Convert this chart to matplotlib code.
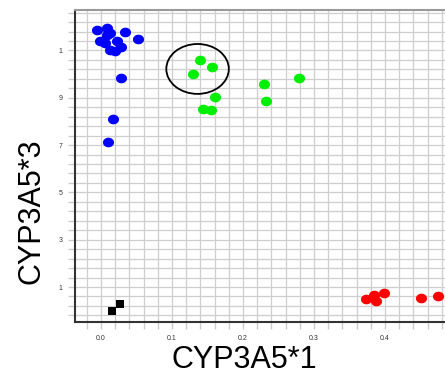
import numpy as np
import matplotlib
matplotlib.use("Agg")
import matplotlib.pyplot as plt
from matplotlib.patches import Ellipse
from matplotlib.path import Path

plt.rcParams['font.family'] = ['Liberation Sans', 'DejaVu Sans']

# ---- data ----
blue_x = [-0.006, 0.009, 0.013, 0.009, 0.034, -0.001, 0.006, 0.023, 0.052, 0.013, 0.020, 0.028, 0.028, 0.017, 0.010]
blue_y = [1.187, 1.194, 1.173, 1.166, 1.177, 1.141, 1.133, 1.141, 1.147, 1.102, 1.098, 1.114, 0.982, 0.810, 0.714]

green_x = [0.139, 0.157, 0.129, 0.161, 0.143, 0.155, 0.230, 0.279, 0.232]
green_y = [1.060, 1.030, 0.999, 0.903, 0.853, 0.850, 0.960, 0.982, 0.885]

red_x = [0.373, 0.384, 0.388, 0.398, 0.451, 0.475]
red_y = [0.048, 0.066, 0.041, 0.073, 0.052, 0.062]

black_x = [0.016, 0.027]
black_y = [0.000, 0.028]

x_tick_values = [0.0, 0.1, 0.2, 0.3, 0.4]
x_tick_labels = ["0.0", "0.1", "0.2", "0.3", "0.4"]
y_tick_values = [0.1, 0.3, 0.5, 0.7, 0.9, 1.1]
y_tick_labels = ["1", "3", "5", "7", "9", "1"]

circle_center = (0.136, 1.022)
circle_w, circle_h = 0.088, 0.211

# ---- figure ----
W, H = 445, 377
fig = plt.figure(figsize=(W / 100, H / 100), dpi=100)
left, right, top, bottom = 75, 445, 10, 322
ax = fig.add_axes([left / W, (H - bottom) / H, (right - left) / W, (bottom - top) / H])

xmin = (left - 101) / 710.0
xmax = (right - 101) / 710.0
ymin = 0.1 - (bottom - 287) / 236.5
ymax = 0.1 + (287 - top) / 236.5
ax.set_xlim(xmin, xmax)
ax.set_ylim(ymin, ymax)

# grid positions (every gridline gets a tick)
xg = np.round(np.arange(-0.02, 0.50, 0.02), 4)
yg = np.round(np.arange(-0.02, 1.30, 0.04), 4)
xg = xg[(xg > xmin) & (xg < xmax)]
yg = yg[(yg > ymin) & (yg < ymax)]
ax.set_xticks(xg)
ax.set_yticks(yg)

def lab(vals, tv, tl):
    out = []
    for v in vals:
        s = ""
        for t, l in zip(tv, tl):
            if abs(v - t) < 1e-6:
                s = l
        out.append(s)
    return out

ax.set_xticklabels(lab(xg, x_tick_values, x_tick_labels))
ax.set_yticklabels(lab(yg, y_tick_values, y_tick_labels))
ax.tick_params(axis='both', length=5, width=1, color='#cccccc', labelsize=5,
               labelcolor='#333333', pad=4)
ax.grid(True, color='#cfcfcf', linewidth=0.9)
ax.set_axisbelow(True)

ax.spines['right'].set_visible(False)
ax.spines['top'].set_color('#999999')
ax.spines['top'].set_linewidth(1.5)
ax.spines['left'].set_color('#333333')
ax.spines['left'].set_linewidth(1.5)
ax.spines['bottom'].set_color('#333333')
ax.spines['bottom'].set_linewidth(1.5)

# elliptical dot marker
t = np.linspace(0, 2 * np.pi, 40)
dot = Path(np.column_stack([1.15 * np.cos(t), np.sin(t)]))

ms = 64
ax.scatter(blue_x, blue_y, marker=dot, s=ms, color='#0000ff', linewidths=0, zorder=3)
ax.scatter(green_x, green_y, marker=dot, s=ms, color='#00ee00', linewidths=0, zorder=3)
ax.scatter(red_x, red_y, marker=dot, s=ms, color='#ff0000', linewidths=0, zorder=3)
ax.scatter(black_x, black_y, marker='s', s=36, color='#000000', linewidths=0, zorder=3)

ax.add_patch(Ellipse(circle_center, circle_w, circle_h, fill=False,
                     edgecolor='black', linewidth=1.3, zorder=4))

fig.text(244 / W, 1 - 360 / H, "CYP3A5*1", fontsize=22, ha='center', va='center')
fig.text(32 / W, 1 - 211 / H, "CYP3A5*3", fontsize=22, ha='center', va='center',
         rotation=90)

fig.savefig("out.png", dpi=100)
